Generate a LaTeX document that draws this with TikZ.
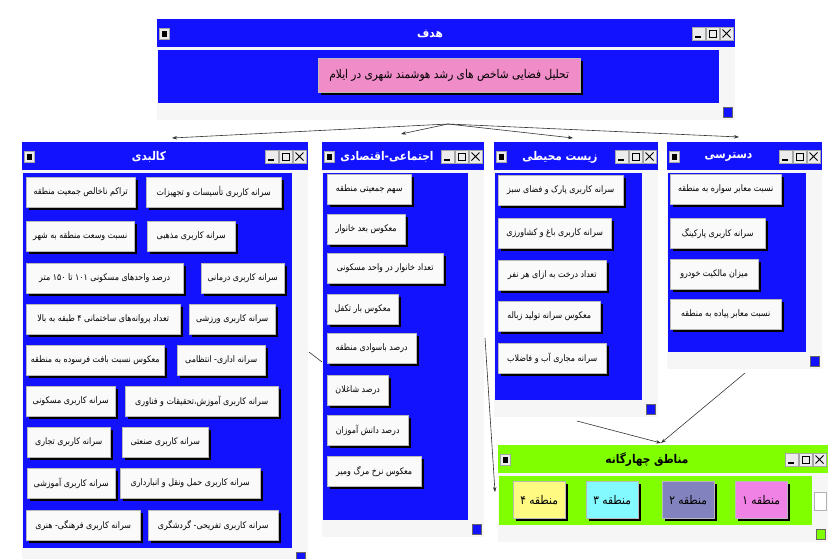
\documentclass[tikz,border=0pt]{standalone}
\usepackage{fontspec}
\newfontfamily\fa[Script=Arabic,FakeStretch=0.88]{DejaVu Sans}
\TeXXeTstate=1
\usetikzlibrary{arrows.meta,shadows}

\definecolor{winblue}{RGB}{18,18,255}
\definecolor{wingreen}{RGB}{128,255,0}
\definecolor{goalpink}{RGB}{240,140,200}
\definecolor{zonepink}{RGB}{240,130,230}
\definecolor{zoneslate}{RGB}{130,130,190}
\definecolor{zonecyan}{RGB}{130,250,255}
\definecolor{zoneyellow}{RGB}{255,250,130}

% right-to-left persian text
\newcommand{\fatext}[1]{\beginR #1\endR}

% window: name, left, top, right, content bottom, colour, title colour, title
\newcommand{\appwin}[8]{%
  \fill[gray!7] (#2,#3) rectangle (#4,#5+17);
  \fill[#6] (#2,#3) rectangle (#4,#3+28);
  \fill[#6] (#2+1,#3+31) rectangle (#4-16,#5);
  \draw[black!60,fill=#6] (#4-12,#5+4) rectangle (#4-3,#5+14);
  \draw[winicon] (#2+2,#3+9) rectangle +(10,11);
  \fill (#2+4.5,#3+11.5) rectangle (#2+9.5,#3+17.5);
  \draw[winicon] (#4-43,#3+8) rectangle +(13,13);
  \draw[very thick] (#4-40,#3+18) -- (#4-34,#3+18);
  \draw[winicon] (#4-29,#3+8) rectangle +(13,13);
  \draw[thick] (#4-26,#3+11) rectangle (#4-19,#3+18);
  \draw[winicon] (#4-15,#3+8) rectangle +(13,13);
  \draw[thick] (#4-12.5,#3+10.5) -- (#4-4.5,#3+18.5) (#4-12.5,#3+18.5) -- (#4-4.5,#3+10.5);
  \node[wintitle,text=#7] (#1) at ({(#2+#4)/2-16},#3+15) {#8};
}

\begin{document}
\begin{tikzpicture}[x=1pt,y=-1pt,
  winicon/.style={draw=gray!70,fill=gray!15},
  wintitle/.style={font=\fa\bfseries\fontsize{12}{14}\selectfont},
  btn/.style={draw=gray!55,fill=gray!4,anchor=north west,minimum height=30pt,
    inner xsep=1pt,inner ysep=1pt,font=\fa\fontsize{9}{11}\selectfont,
    general shadow={fill=black,shadow xshift=2.5pt,shadow yshift=-2.5pt}},
  zone/.style={btn,minimum height=37pt,minimum width=52pt,font=\fa\fontsize{12}{14}\selectfont},
  link/.style={draw=black!80,line width=0.6pt,-{Stealth[length=5pt,width=3.5pt]}}]
\fill[white] (0,0) rectangle (832,558);
\useasboundingbox (0,0) rectangle (832,558);

% goal window
\appwin{goal}{157}{19}{735}{103}{winblue}{white}{\fatext{هدف}}
\node[btn,fill=goalpink,minimum width=262pt,minimum height=34pt,font=\fa\fontsize{12}{14}\selectfont] (goal-box) at (318,58) {\fatext{تحلیل فضایی شاخص های رشد هوشمند شهری در ایلام}};

% physical
\appwin{phys}{22}{142}{308}{548}{winblue}{white}{\fatext{کالبدی}}
\node[btn,minimum width=109pt] (phys1) at (26,177) {\fatext{تراکم ناخالص جمعیت منطقه}};
\node[btn,minimum width=135pt] (phys2) at (146,177) {\fatext{سرانه کاربری تأسیسات و تجهیزات}};
\node[btn,minimum width=108pt] (phys3) at (26,221) {\fatext{نسبت وسعت منطقه به شهر}};
\node[btn,minimum width=88pt] (phys4) at (147,221) {\fatext{سرانه کاربری مذهبی}};
\node[btn,minimum width=157pt] (phys5) at (26,263) {\fatext{درصد واحدهای مسکونی ۱۰۱ تا ۱۵۰ متر}};
\node[btn,minimum width=83pt] (phys6) at (201,263) {\fatext{سرانه کاربری درمانی}};
\node[btn,minimum width=154pt] (phys7) at (26,304) {\fatext{تعداد پروانه‌های ساختمانی ۴ طبقه به بالا}};
\node[btn,minimum width=86pt] (phys8) at (189,304) {\fatext{سرانه کاربری ورزشی}};
\node[btn,minimum width=138pt] (phys9) at (26,345) {\fatext{معکوس نسبت بافت فرسوده به منطقه}};
\node[btn,minimum width=88pt] (phys10) at (177,345) {\fatext{سرانه اداری- انتظامی}};
\node[btn,minimum width=89pt] (phys11) at (26,386) {\fatext{سرانه کاربری مسکونی}};
\node[btn,minimum width=153pt] (phys12) at (125,386) {\fatext{سرانه کاربری آموزش،تحقیقات و فناوری}};
\node[btn,minimum width=83pt] (phys13) at (27,427) {\fatext{سرانه کاربری تجاری}};
\node[btn,minimum width=86pt] (phys14) at (122,427) {\fatext{سرانه کاربری صنعتی}};
\node[btn,minimum width=88pt] (phys15) at (27,468) {\fatext{سرانه کاربری آموزشی}};
\node[btn,minimum width=140pt] (phys16) at (120,468) {\fatext{سرانه کاربری حمل ونقل و انبارداری}};
\node[btn,minimum width=114pt] (phys17) at (26,510) {\fatext{سرانه کاربری فرهنگی- هنری}};
\node[btn,minimum width=130pt] (phys18) at (148,510) {\fatext{سرانه کاربری تفریحی- گردشگری}};

% socio-economic
\appwin{soc}{322}{142}{484}{520}{winblue}{white}{\fatext{اجتماعی-اقتصادی}}
\node[btn,minimum width=84pt] (soc1) at (327,174) {\fatext{سهم جمعیتی منطقه}};
\node[btn,minimum width=78pt] (soc2) at (327,214) {\fatext{معکوس بعد خانوار}};
\node[btn,minimum width=116pt] (soc3) at (327,253) {\fatext{تعداد خانوار در واحد مسکونی}};
\node[btn,minimum width=71pt] (soc4) at (327,294) {\fatext{معکوس بار تکفل}};
\node[btn,minimum width=89pt] (soc5) at (327,333) {\fatext{درصد باسوادی منطقه}};
\node[btn,minimum width=61pt] (soc6) at (327,375) {\fatext{درصد شاغلان}};
\node[btn,minimum width=81pt] (soc7) at (327,415) {\fatext{درصد دانش آموزان}};
\node[btn,minimum width=94pt] (soc8) at (327,456) {\fatext{معکوس نرخ مرگ ومیر}};

% environment
\appwin{env}{494}{142}{658}{400}{winblue}{white}{\fatext{زیست محیطی}}
\node[btn,minimum width=125pt] (env1) at (498,175) {\fatext{سرانه کاربری پارک و فضای سبز}};
\node[btn,minimum width=113pt] (env2) at (498,218) {\fatext{سرانه کاربری باغ و کشاورزی}};
\node[btn,minimum width=108pt] (env3) at (498,260) {\fatext{تعداد درخت به ازای هر نفر}};
\node[btn,minimum width=102pt] (env4) at (498,301) {\fatext{معکوس سرانه تولید زباله}};
\node[btn,minimum width=108pt] (env5) at (498,343) {\fatext{سرانه مجاری آب و فاضلاب}};

% access
\appwin{acc}{667}{142}{822}{352}{winblue}{white}{\fatext{دسترسی}}
\node[btn,minimum width=111pt] (acc1) at (670,174) {\fatext{نسبت معابر سواره به منطقه}};
\node[btn,minimum width=95pt] (acc2) at (670,218) {\fatext{سرانه کاربری پارکینگ}};
\node[btn,minimum width=88pt] (acc3) at (670,259) {\fatext{میزان مالکیت خودرو}};
\node[btn,minimum width=111pt] (acc4) at (670,299) {\fatext{نسبت معابر پیاده به منطقه}};

% four zones
\appwin{zones}{498}{445}{828}{525}{wingreen}{black}{\fatext{مناطق چهارگانه}}
\draw[gray!60,fill=white] (814,492) rectangle (826,510);
\node[zone,fill=zoneyellow] (zone4) at (513,481) {\fatext{منطقه ۴}};
\node[zone,fill=zonecyan] (zone3) at (586,481) {\fatext{منطقه ۳}};
\node[zone,fill=zoneslate] (zone2) at (662,481) {\fatext{منطقه ۲}};
\node[zone,fill=zonepink] (zone1) at (735,481) {\fatext{منطقه ۱}};

% connectors
\coordinate (hub) at (448,124);
\coordinate (phys-in) at (172,138);
\coordinate (soc-in) at (401,134);
\coordinate (env-in) at (573,138);
\coordinate (acc-in) at (739,137);
\draw[link] (hub) -- (phys-in);
\draw[link] (hub) -- (soc-in);
\draw[link] (hub) -- (env-in);
\draw[link] (hub) -- (acc-in);

\coordinate (phys-out) at (309,352);
\coordinate (phys-end) at (322,362);
\draw[draw=black!80,line width=0.6pt] (phys-out) -- (phys-end);
\coordinate (soc-out) at (485,338);
\coordinate (zones-side) at (495,492);
\coordinate (env-out) at (577,421);
\coordinate (acc-out) at (745,373);
\coordinate (zones-top) at (661,443);
\draw[link] (soc-out) -- (zones-side);
\draw[link] (env-out) -- (zones-top);
\draw[link] (acc-out) -- (zones-top);
\end{tikzpicture}
\end{document}
